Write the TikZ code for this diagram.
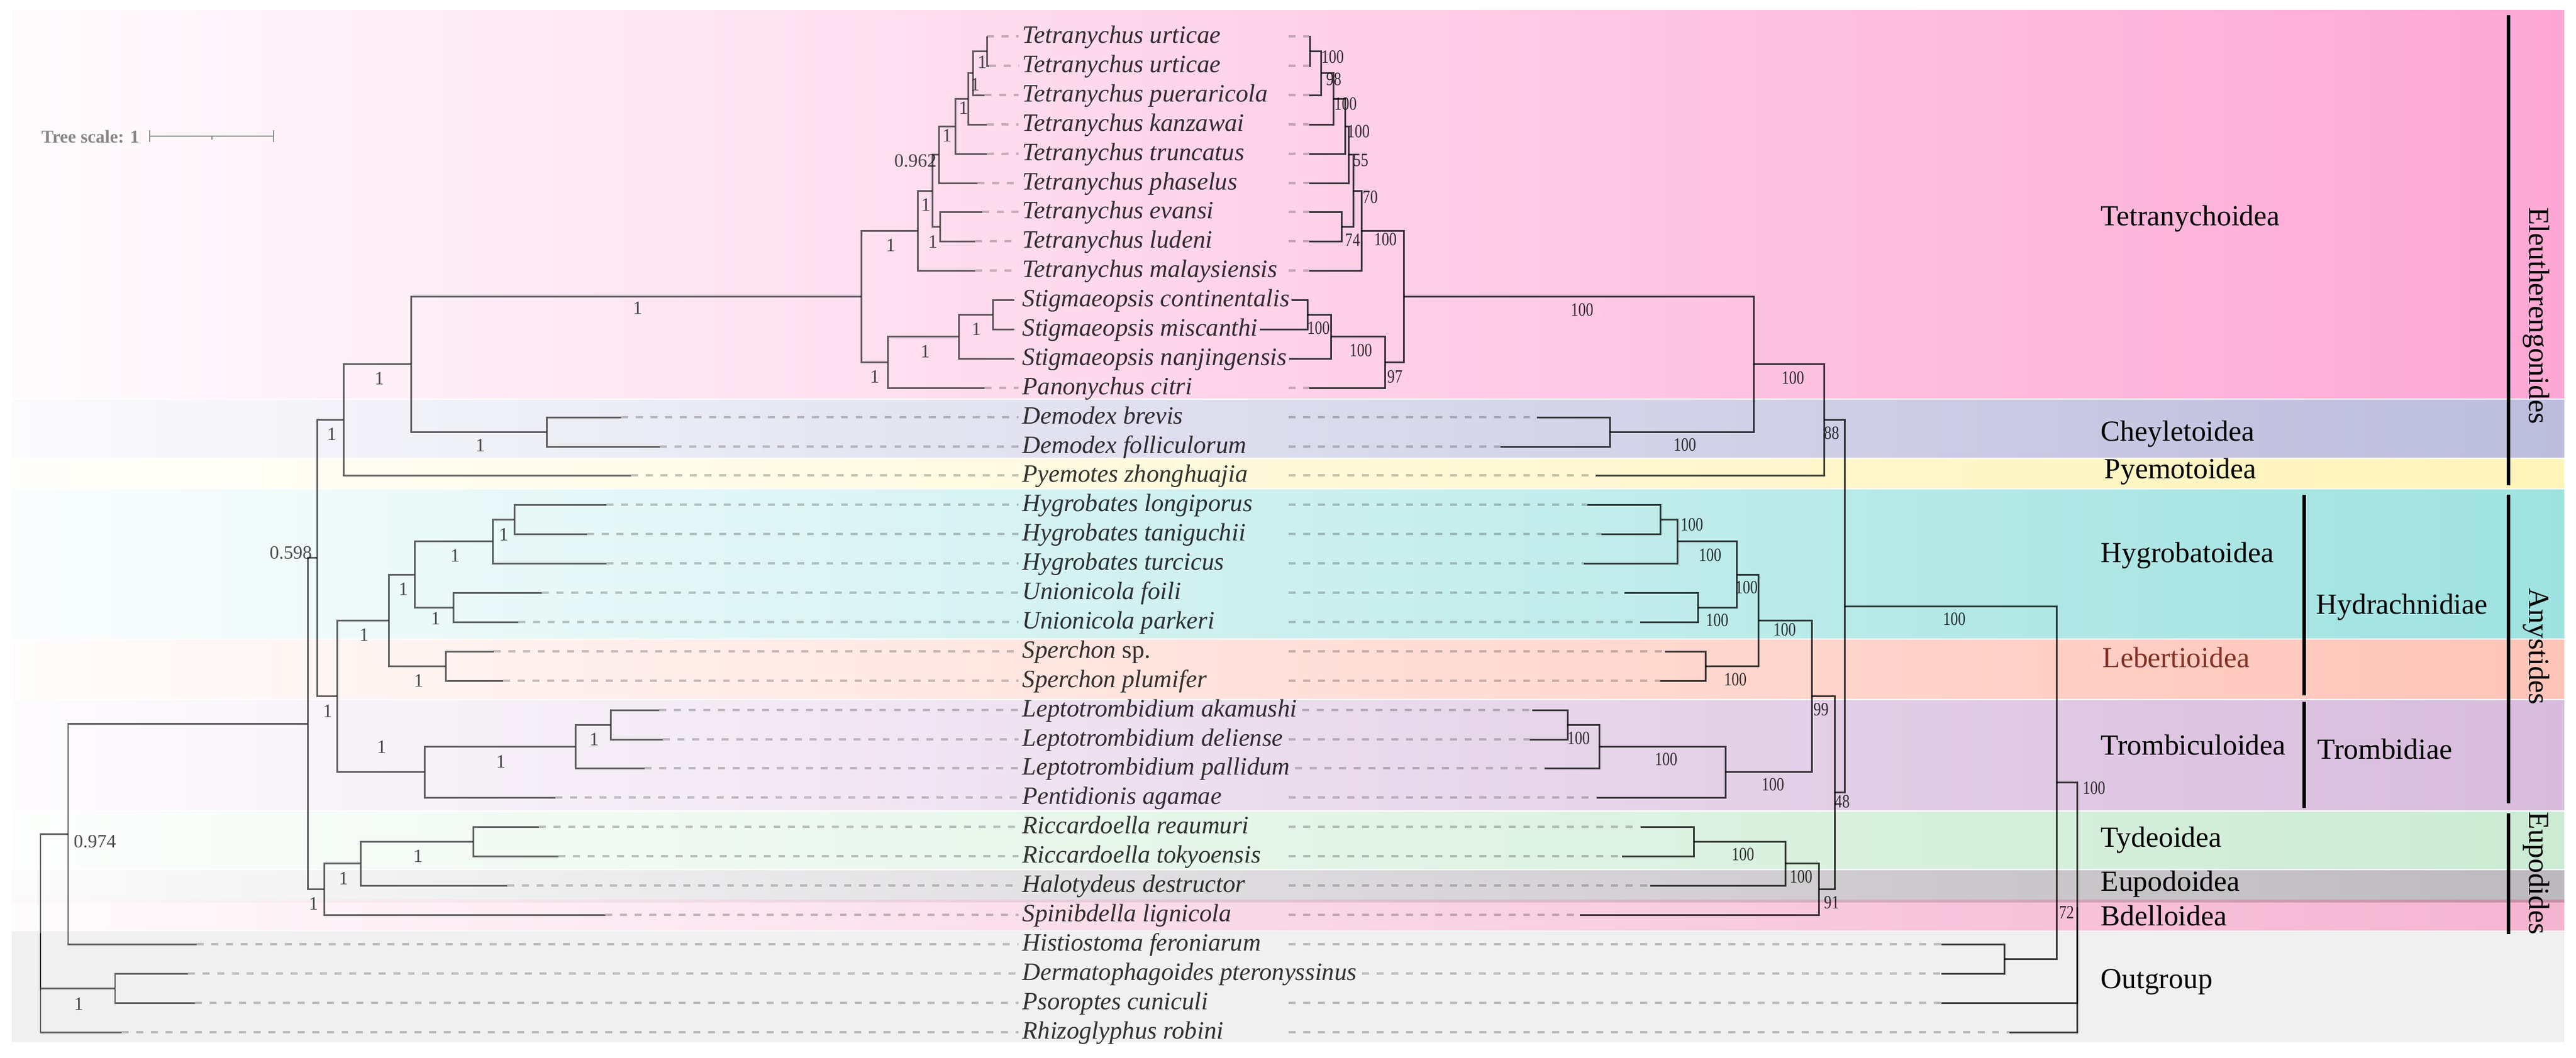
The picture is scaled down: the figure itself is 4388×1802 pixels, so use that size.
\documentclass[tikz,border=0pt]{standalone}
\usepackage{fontspec}
\setmainfont{Liberation Serif}
\usetikzlibrary{calc}
\definecolor{cTet}{RGB}{253,168,212}
\definecolor{cChe}{RGB}{188,188,221}
\definecolor{cPye}{RGB}{255,244,185}
\definecolor{cHyg}{RGB}{158,226,224}
\definecolor{cLeb}{RGB}{255,196,184}
\definecolor{cTro}{RGB}{216,188,221}
\definecolor{cTyd}{RGB}{203,235,211}
\definecolor{cEup}{RGB}{189,185,190}
\definecolor{cBde}{RGB}{245,180,208}
\definecolor{cOut}{RGB}{240,240,240}
\definecolor{cLebT}{RGB}{130,50,40}
\begin{document}
\begin{tikzpicture}[x=0.01cm,y=-0.01cm,
 treel/.style={draw=black,draw opacity=0.6,line width=0.85pt},
 treer/.style={draw=black,draw opacity=0.75,line width=0.85pt},
 dsh/.style={draw=black,draw opacity=0.22,line width=1.1pt,dash pattern=on 3.4pt off 3.7pt},
 spn/.style={anchor=west,inner sep=0pt,text height=0.68em,text depth=0pt,font=\fontsize{12.1}{14}\selectfont\itshape,text opacity=0.8},
 grp/.style={anchor=west,inner sep=0pt,text height=0.66em,text depth=0pt,font=\fontsize{14.1}{16}\selectfont},
 grpv/.style={inner sep=0pt,rotate=-90,font=\fontsize{14.1}{16}\selectfont},
 supl/.style={inner sep=0pt,text height=0.68em,text depth=0pt,font=\fontsize{9.1}{10}\selectfont,text opacity=0.7},
 supr/.style={supl,xscale=0.8,text opacity=0.8},
 barl/.style={line width=1.7pt,draw=black},
]
\useasboundingbox (0,0) rectangle (4388,1802);
\fill[white] (0,0) rectangle (4388,1802);
% bands
\shade[left color=cTet!4, right color=cTet] (20,17) rectangle (4368,678);
\shade[left color=cChe!6, right color=cChe] (20,681) rectangle (4368,779);
\shade[left color=cPye!6, right color=cPye] (20,782) rectangle (4368,831);
\shade[left color=cHyg!5, right color=cHyg] (20,834) rectangle (4368,1087);
\shade[left color=cLeb!5, right color=cLeb] (20,1090) rectangle (4368,1190);
\shade[left color=cTro!5, right color=cTro] (20,1193) rectangle (4368,1380);
\shade[left color=cTyd!5, right color=cTyd] (20,1383) rectangle (4368,1480);
\shade[left color=cEup!5, right color=cEup] (20,1483) rectangle (4368,1533);
\shade[left color=cBde!5, right color=cBde] (20,1535) rectangle (4368,1585);
\shade[left color=cBde!10, right color=cBde!80!black] (20,1533) rectangle (4368,1537);
\fill[cOut] (20,1587) rectangle (4368,1776);
% tree scale
\node[font=\fontsize{8.8}{10}\selectfont\bfseries,text=black!47,anchor=west,inner sep=0pt,text height=0.66em,text depth=0pt] (tsc) at (70,232) {Tree scale: 1};
\draw[black!45,line width=0.8pt] (255,232) -- (466,232) (255,222) -- (255,242) (466,222) -- (466,242) (361,232) -- (361,238);
% species
\node[spn] (t0) at (1741,62) {Tetranychus urticae};
\node[spn] (t1) at (1741,112) {Tetranychus urticae};
\node[spn] (t2) at (1741,162) {Tetranychus pueraricola};
\node[spn] (t3) at (1741,212) {Tetranychus kanzawai};
\node[spn] (t4) at (1741,262) {Tetranychus truncatus};
\node[spn] (t5) at (1741,312) {Tetranychus phaselus};
\node[spn] (t6) at (1741,361) {Tetranychus evansi};
\node[spn] (t7) at (1741,411) {Tetranychus ludeni};
\node[spn] (t8) at (1741,461) {Tetranychus malaysiensis};
\node[spn] (t9) at (1741,511) {Stigmaeopsis continentalis};
\node[spn] (t10) at (1741,561) {Stigmaeopsis miscanthi};
\node[spn] (t11) at (1741,611) {Stigmaeopsis nanjingensis};
\node[spn] (t12) at (1741,661) {Panonychus citri};
\node[spn] (t13) at (1741,711) {Demodex brevis};
\node[spn] (t14) at (1741,761) {Demodex folliculorum};
\node[spn] (t15) at (1741,810) {Pyemotes zhonghuajia};
\node[spn] (t16) at (1741,860) {Hygrobates longiporus};
\node[spn] (t17) at (1741,910) {Hygrobates taniguchii};
\node[spn] (t18) at (1741,960) {Hygrobates turcicus};
\node[spn] (t19) at (1741,1010) {Unionicola foili};
\node[spn] (t20) at (1741,1060) {Unionicola parkeri};
\node[spn] (t21) at (1741,1110) {Sperchon \upshape sp.};
\node[spn] (t22) at (1741,1160) {Sperchon plumifer};
\node[spn] (t23) at (1741,1210) {Leptotrombidium akamushi};
\node[spn] (t24) at (1741,1260) {Leptotrombidium deliense};
\node[spn] (t25) at (1741,1309) {Leptotrombidium pallidum};
\node[spn] (t26) at (1741,1359) {Pentidionis agamae};
\node[spn] (t27) at (1741,1409) {Riccardoella reaumuri};
\node[spn] (t28) at (1741,1459) {Riccardoella tokyoensis};
\node[spn] (t29) at (1741,1509) {Halotydeus destructor};
\node[spn] (t30) at (1741,1559) {Spinibdella lignicola};
\node[spn] (t31) at (1741,1609) {Histiostoma feroniarum};
\node[spn] (t32) at (1741,1659) {Dermatophagoides pteronyssinus};
\node[spn] (t33) at (1741,1709) {Psoroptes cuniculi};
\node[spn] (t34) at (1741,1759) {Rhizoglyphus robini};
% left leaves
\coordinate (L0) at (1681,62); \coordinate (L1) at (1685,112); \coordinate (L2) at (1677,162);
\coordinate (L3) at (1681,212); \coordinate (L4) at (1681,262); \coordinate (L5) at (1665,312);
\coordinate (L6) at (1673,361); \coordinate (L7) at (1661,411); \coordinate (L8) at (1661,461);
\coordinate (L9) at (1728,511); \coordinate (L10) at (1728,561); \coordinate (L11) at (1728,611);
\coordinate (L12) at (1677,661); \coordinate (L13) at (1058,711); \coordinate (L14) at (1124,761);
\coordinate (L15) at (1075,810); \coordinate (L16) at (1033,860); \coordinate (L17) at (1000,910);
\coordinate (L18) at (1033,960); \coordinate (L19) at (923,1010); \coordinate (L20) at (883,1060);
\coordinate (L21) at (841,1110); \coordinate (L22) at (857,1160); \coordinate (L23) at (1123,1210);
\coordinate (L24) at (1129,1260); \coordinate (L25) at (1098,1309); \coordinate (L26) at (946,1359);
\coordinate (L27) at (918,1409); \coordinate (L28) at (951,1459); \coordinate (L29) at (864,1509);
\coordinate (L30) at (1031,1559); \coordinate (L31) at (335,1609); \coordinate (L32) at (320,1659);
\coordinate (L33) at (332,1709); \coordinate (L34) at (207,1759);
% left internal
\coordinate (lA) at (1681,87); \coordinate (lB) at (1657,124.5); \coordinate (lC) at (1649,168);
\coordinate (lD) at (1627,215); \coordinate (lE) at (1599,263.5); \coordinate (lF) at (1601,386);
\coordinate (lG) at (1588,325); \coordinate (lH) at (1563,393); \coordinate (lS1) at (1691,536);
\coordinate (lS2) at (1633,573.5); \coordinate (lS3) at (1512,617); \coordinate (lT) at (1467,505);
\coordinate (lDm) at (931,736); \coordinate (lTD) at (700,620.5); \coordinate (lP) at (585,715);
\coordinate (lHg2) at (876,885); \coordinate (lHg) at (839,922.5); \coordinate (lUn) at (772,1035);
\coordinate (lHy) at (706,979); \coordinate (lSp) at (759,1135); \coordinate (lHL) at (662,1057);
\coordinate (lL2) at (1040,1235); \coordinate (lL1) at (980,1272); \coordinate (lTr) at (723,1315.5);
\coordinate (lAny) at (574,1186); \coordinate (lEA) at (540,950.5); \coordinate (lRi) at (806,1434);
\coordinate (lEu1) at (614,1471.5); \coordinate (lEu) at (552,1515); \coordinate (lR1) at (524,1233);
\coordinate (lR2) at (116,1421); \coordinate (lO1) at (196,1684); \coordinate (lRoot) at (69,1590);
% right leaves
\foreach \i/\yy in {0/62,1/112,2/162,3/212,4/262,5/312,6/361,7/411,8/461,12/661}
  {\coordinate (R\i) at (2230,\yy);}
\coordinate (R9) at ($(t9.east)+(3,0)$); \coordinate (R10) at ($(t10.east)+(3,0)$);
\coordinate (R11) at ($(t11.east)+(3,0)$);
\coordinate (R13) at (2618,711); \coordinate (R14) at (2556,761); \coordinate (R15) at (2718,810);
\coordinate (R16) at (2704,860); \coordinate (R17) at (2728,910); \coordinate (R18) at (2698,960);
\coordinate (R19) at (2767,1010); \coordinate (R20) at (2794,1060); \coordinate (R21) at (2836,1110);
\coordinate (R22) at (2828,1160); \coordinate (R23) at (2610,1210); \coordinate (R24) at (2606,1260);
\coordinate (R25) at (2631,1309); \coordinate (R26) at (2720,1359); \coordinate (R27) at (2795,1409);
\coordinate (R28) at (2763,1459); \coordinate (R29) at (2811,1509); \coordinate (R30) at (2691,1559);
\coordinate (R31) at (3307,1609); \coordinate (R32) at (3307,1659); \coordinate (R33) at (3307,1709);
\coordinate (R34) at (3423,1759);
% right internal
\coordinate (rA) at (2231,87); \coordinate (rB) at (2250,124.5); \coordinate (rC) at (2271,168);
\coordinate (rD) at (2291,215); \coordinate (rE) at (2297,263.5); \coordinate (rF) at (2285,386);
\coordinate (rG) at (2305,325); \coordinate (rH) at (2319,393); \coordinate (rS1) at (2227,536);
\coordinate (rS2) at (2267,573.5); \coordinate (rS3) at (2359,617); \coordinate (rT) at (2391,505);
\coordinate (rDm) at (2742,736); \coordinate (rE1) at (2987,620.5); \coordinate (rE2) at (3107,715);
\coordinate (rHn1) at (2828,885); \coordinate (rHn2) at (2857,922.5); \coordinate (rUn) at (2892,1035);
\coordinate (rHn3) at (2958,979); \coordinate (rSp) at (2905,1135); \coordinate (rHyd) at (2995,1057);
\coordinate (rL1) at (2670,1235); \coordinate (rL2) at (2724,1272); \coordinate (rTr) at (2939,1315.5);
\coordinate (rAny) at (3086,1186); \coordinate (rRi) at (2885,1434); \coordinate (rEu1) at (3041,1471.5);
\coordinate (rEu2) at (3098,1515); \coordinate (rAE) at (3125,1350.5); \coordinate (rIng) at (3142,1033);
\coordinate (rO1) at (3414,1634); \coordinate (rN) at (3503,1333.5); \coordinate (rRoot) at (3538,1546);
% dashed leaf extensions
\foreach \i in {0,...,8,12,13,...,34}
  {\draw[dsh] (L\i) -- ($(t\i.west)+(-6,0)$);}
\foreach \i in {0,...,8,12,13,...,22,24,26,27,...,31,33,34}
  {\draw[dsh] ($(t\i.west)+(454,0)$) -- (R\i);}
\foreach \i in {23,25,32}
  {\draw[dsh] ($(t\i.east)+(8,0)$) -- (R\i);}
% left tree
\foreach \p/\c in {lA/L0,lA/L1,lB/lA,lB/L2,lC/lB,lC/L3,lD/lC,lD/L4,lE/lD,lE/L5,lF/L6,lF/L7,
  lG/lE,lG/lF,lH/lG,lH/L8,lS1/L9,lS1/L10,lS2/lS1,lS2/L11,lS3/lS2,lS3/L12,lT/lH,lT/lS3,
  lDm/L13,lDm/L14,lTD/lT,lTD/lDm,lP/lTD,lP/L15,lHg2/L16,lHg2/L17,lHg/lHg2,lHg/L18,
  lUn/L19,lUn/L20,lHy/lHg,lHy/lUn,lSp/L21,lSp/L22,lHL/lHy,lHL/lSp,lL2/L23,lL2/L24,
  lL1/lL2,lL1/L25,lTr/lL1,lTr/L26,lAny/lHL,lAny/lTr,lEA/lP,lEA/lAny,lRi/L27,lRi/L28,
  lEu1/lRi,lEu1/L29,lEu/lEu1,lEu/L30,lR1/lEA,lR1/lEu,lR2/lR1,lR2/L31,lO1/L32,lO1/L33,
  lRoot/lR2,lRoot/lO1,lRoot/L34}
  {\draw[treel] (\p) |- (\c);}
% right tree
\foreach \p/\c in {rA/R0,rA/R1,rB/rA,rB/R2,rC/rB,rC/R3,rD/rC,rD/R4,rE/rD,rE/R5,rF/R6,rF/R7,
  rG/rE,rG/rF,rH/rG,rH/R8,rS1/R9,rS1/R10,rS2/rS1,rS2/R11,rS3/rS2,rS3/R12,rT/rH,rT/rS3,
  rDm/R13,rDm/R14,rE1/rT,rE1/rDm,rE2/rE1,rE2/R15,rHn1/R16,rHn1/R17,rHn2/rHn1,rHn2/R18,
  rUn/R19,rUn/R20,rHn3/rHn2,rHn3/rUn,rSp/R21,rSp/R22,rHyd/rHn3,rHyd/rSp,rL1/R23,rL1/R24,
  rL2/rL1,rL2/R25,rTr/rL2,rTr/R26,rAny/rHyd,rAny/rTr,rRi/R27,rRi/R28,rEu1/rRi,rEu1/R29,
  rEu2/rEu1,rEu2/R30,rAE/rAny,rAE/rEu2,rIng/rE2,rIng/rAE,rO1/R31,rO1/R32,rN/rIng,rN/rO1,
  rRoot/rN,rRoot/R33,rRoot/R34}
  {\draw[treer] (\p) |- (\c);}
% left support values
\node[supl] (bA) at (1673,105) {1};
\node[supl] (bB) at (1661,143) {1};
\node[supl] (bC) at (1641,183) {1};
\node[supl] (bD) at (1613,230) {1};
\node[supl,anchor=east] (bE) at (1596,273) {0.962};
\node[supl] (bF) at (1589,411) {1};
\node[supl] (bG) at (1577,348) {1};
\node[supl] (bH) at (1517,417) {1};
\node[supl] (bS1) at (1663,560) {1};
\node[supl] (bS2) at (1576,598) {1};
\node[supl] (bS3) at (1490,641) {1};
\node[supl] (bT) at (1086,524) {1};
\node[supl] (bDm) at (818,758) {1};
\node[supl] (bTD) at (646,644) {1};
\node[supl] (bP) at (565,739) {1};
\node[supl,anchor=east] (bEA) at (532,941) {0.598};
\node[supl] (bEu) at (534,1539) {1};
\node[supl] (bAny) at (558,1211) {1};
\node[supl] (bHL) at (620,1081) {1};
\node[supl] (bHy) at (687,1003) {1};
\node[supl] (bHg) at (775,946) {1};
\node[supl] (bHg2) at (858,910) {1};
\node[supl] (bUn) at (742,1053) {1};
\node[supl] (bSp) at (713,1159) {1};
\node[supl] (bTr) at (650,1272) {1};
\node[supl] (bL1) at (853,1297) {1};
\node[supl] (bL2) at (1012,1259) {1};
\node[supl] (bEu1) at (585,1496) {1};
\node[supl] (bRi) at (712,1458) {1};
\node[supl,anchor=west] (bR2) at (125,1433) {0.974};
\node[supl] (bO1) at (134,1710) {1};
% right support values
\node[supr] (cA) at (2270,96) {100};
\node[supr] (cB) at (2272,134) {98};
\node[supr] (cC) at (2292,176) {100};
\node[supr] (cD) at (2314,223) {100};
\node[supr] (cE) at (2318,272) {55};
\node[supr] (cG) at (2334,335) {70};
\node[supr] (cF) at (2304,408) {74};
\node[supr] (cH) at (2360,407) {100};
\node[supr] (cS1) at (2246,558) {100};
\node[supr] (cS2) at (2318,596) {100};
\node[supr] (cS3) at (2376,641) {97};
\node[supr] (cT) at (2695,527) {100};
\node[supr] (cDm) at (2870,757) {100};
\node[supr] (cE1) at (3054,643) {100};
\node[supr] (cE2) at (3120,737) {88};
\node[supr] (cHn1) at (2882,893) {100};
\node[supr] (cHn2) at (2913,945) {100};
\node[supr] (cUn) at (2925,1056) {100};
\node[supr] (cHn3) at (2975,1000) {100};
\node[supr] (cSp) at (2956,1157) {100};
\node[supr] (cHyd) at (3040,1072) {100};
\node[supr] (cL1) at (2689,1257) {100};
\node[supr] (cL2) at (2838,1293) {100};
\node[supr] (cTr) at (3020,1336) {100};
\node[supr] (cAny) at (3102,1208) {99};
\node[supr] (cRi) at (2969,1455) {100};
\node[supr] (cEu1) at (3068,1493) {100};
\node[supr] (cEu2) at (3120,1537) {91};
\node[supr] (cAE) at (3138,1365) {48};
\node[supr] (cIng) at (3329,1054) {100};
\node[supr] (cN) at (3567,1342) {100};
\node[supr] (cRoot) at (3520,1554) {72};
% group labels
\node[grp] (gTet) at (3578,373) {Tetranychoidea};
\node[grp] (gChe) at (3578,740) {Cheyletoidea};
\node[grp] (gPye) at (3584,804) {Pyemotoidea};
\node[grp] (gHyg) at (3578,947) {Hygrobatoidea};
\node[grp,text=cLebT] (gLeb) at (3581,1126) {Lebertioidea};
\node[grp] (gTro) at (3578,1275) {Trombiculoidea};
\node[grp] (gTyd) at (3578,1432) {Tydeoidea};
\node[grp] (gEup) at (3578,1507) {Eupodoidea};
\node[grp] (gBde) at (3578,1566) {Bdelloidea};
\node[grp] (gOut) at (3578,1673) {Outgroup};
\node[grp] (gHyd) at (3945,1035) {Hydrachnidiae};
\node[grp] (gTrd) at (3947,1282) {Trombidiae};
% brackets
\draw[barl] (3925,843) -- (3925,1185);
\draw[barl] (3925,1196) -- (3925,1377);
\draw[barl] (4273,26) -- (4273,827);
\draw[barl] (4273,843) -- (4273,1369);
\draw[barl] (4273,1386) -- (4273,1592);
\node[grpv] (gEle) at (4320,538) {Eleutherengonides};
\node[grpv] (gAny) at (4320,1102) {Anystides};
\node[grpv] (gEud) at (4320,1488) {Eupodides};
\end{tikzpicture}
\end{document}
